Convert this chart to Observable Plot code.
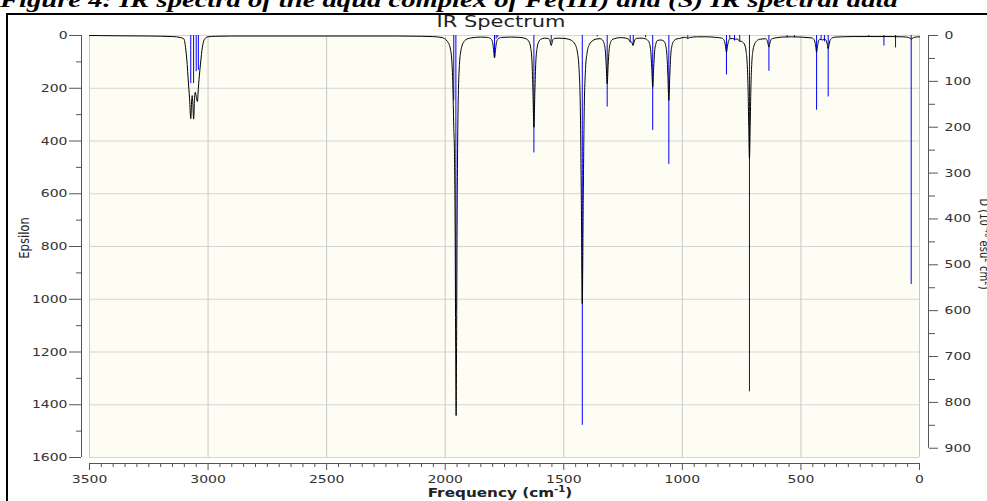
<!DOCTYPE html>
<html><head><meta charset="utf-8">
<script src="https://cdn.jsdelivr.net/npm/d3@7"></script>
<script src="https://cdn.jsdelivr.net/npm/@observablehq/plot@0.6"></script>
<style>
html,body{margin:0;padding:0;width:987px;height:501px;overflow:hidden;background:#fff;}
.lbl{position:absolute;white-space:nowrap;font-family:"DejaVu Sans";color:#222;line-height:1;}
</style></head><body>
<div id="caption" style="position:absolute;left:0px;top:-10px;font:italic bold 22px 'Liberation Serif';white-space:nowrap;transform:scaleX(1.3);transform-origin:0 0;line-height:20px;color:#000;">Figure 4: IR spectra of the aqua complex of Fe(III) and (S) IR spectral data</div>
<div id="border" style="position:absolute;left:6px;top:13px;width:1200px;height:800px;border-left:2px solid #000;border-top:2px solid #000;"></div>
<div id="chart" style="position:absolute;left:0;top:0;width:987px;height:501px;"></div>
<div class="lbl" style="left:501px;top:22px;font-size:16.5px;transform:translate(-50%,-50%) scaleX(1.27)">IR Spectrum</div>
<div class="lbl" style="left:24.5px;top:237.5px;font-size:11.6px;transform:translate(-50%,-50%) scaleX(1.27) rotate(-90deg)">Epsilon</div>
<div class="lbl" style="left:500px;top:492px;font-size:12px;font-weight:bold;transform:translate(-50%,-50%) scaleX(1.27)">Frequency (cm<sup style="font-size:8px;vertical-align:5px">-1</sup>)</div>
<div class="lbl" style="left:983.5px;top:244px;font-size:10px;transform:translate(-50%,-50%) scaleX(1.27) rotate(90deg)">D (10<sup style="font-size:7px;vertical-align:4px">-40</sup> esu<sup style="font-size:7px;vertical-align:4px">2</sup> cm<sup style="font-size:7px;vertical-align:4px">2</sup>)</div>
<script>
// ---- axis ticks ----
const freqTicks = [3500, 3000, 2500, 2000, 1500, 1000, 500, 0];
const freqMinor = d3.range(0, 3501, 50).filter(d => d % 500 !== 0);
const epsTicks = [0, 200, 400, 600, 800, 1000, 1200, 1400, 1600];
const epsMinor = [100, 300, 500, 700, 900, 1100, 1300, 1500];
const dTicks = [0, 100, 200, 300, 400, 500, 600, 700, 800, 900];
const dMinor = [50, 150, 250, 350, 450, 550, 650, 750, 850];
const freqMin = 0, freqMax = 3500, epsMax = 1600, dMax = 900;
// right axis (D) to left axis (epsilon) unit ratio: D 900 sits at epsilon ~1565
const k = 1.7388;

// ---- stick spectrum (blue, dipole strength D) ----
const stickFreq = [3073,3061,3050,3041,1964,1955,1792,1785,1778,1626,1553,1422,1359,1317,1220,1207,1155,1125,1057,977,814,800,780,758,717,635,558,527,434,415,401,385,214,150,101,35];
const stickD    = [105, 105, 79,  76,  142, 600, 48,  8,   5,   256, 15,  850, 3,   156, 15,  20,  5,   207, 281, 8,  86, 8,  12, 14, 777,78, 5,  5,  163,10, 14, 134,3,  23, 27, 543];

// ---- broadened spectrum (black, epsilon) ----
const curveHigh = [[3500,0],[3400,1],[3250,2],[3150,4],[3115,8],[3102,13],[3095,45],[3088,110],[3084,165],[3078,240],[3073,315],[3069,245],[3067,228],[3064,262],[3061,317],[3057,238],[3054,215],[3049,236],[3045,250],[3041,200],[3035,135],[3030,90],[3026,57],[3018,20],[3010,9],[3000,5],[2970,3],[2900,2],[2500,2],[2200,2],[2100,3]];
const curve1950 = [[2055,4],[2013,8],[1992,21],[1978,51],[1970,130],[1966,262],[1964,346],[1961,446],[1958,756],[1956,1166],[1954,1441],[1952,1160],[1950,725],[1946,290],[1944,200],[1940,110],[1934,58],[1928,36],[1918,20],[1907,13],[1890,9],[1872,7],[1850,6]];
const curveMid = [[1822,7],[1812,10],[1806,14],[1800,27],[1796,54],[1792,85],[1788,54],[1784,27],[1778,14],[1772,10],[1762,7],[1720,6],[1690,7],[1671,9],[1656,14],[1646,25],[1640,44],[1634,101],[1630,214],[1626,348],[1622,214],[1618,101],[1612,44],[1606,25],[1596,14],[1581,10],[1567,11],[1561,15],[1557,25],[1553,38],[1549,25],[1545,15],[1539,11],[1520,10],[1500,11]];
const curve1400 = [[1480,14],[1467,19],[1452,34],[1442,67],[1436,122],[1430,290],[1426,625],[1422,1017],[1418,625],[1414,290],[1408,122],[1402,67],[1392,34],[1377,19],[1360,13],[1347,12],[1337,17],[1331,27],[1325,56],[1321,114],[1317,183],[1313,114],[1309,56],[1303,27],[1297,17],[1287,12],[1260,8],[1240,10],[1228,13],[1220,24],[1214,25],[1208,38],[1204,26],[1200,16],[1194,11],[1180,10]];
const curve1100 = [[1170,10],[1155,13],[1145,19],[1139,29],[1133,61],[1129,123],[1125,196],[1121,123],[1117,61],[1111,29],[1105,19],[1091,17],[1077,22],[1071,35],[1065,75],[1061,153],[1057,246],[1053,153],[1049,75],[1043,35],[1037,22],[1027,14],[1012,11],[990,7],[981,9],[977,12],[973,9],[964,7]];
const curveLow = [[940,5],[900,5],[860,7],[834,10],[828,13],[822,23],[818,41],[814,63],[810,41],[806,23],[800,13],[790,11],[784,12],[780,17],[776,13],[766,14],[758,22],[752,22],[747,24],[737,36],[731,61],[727,101],[723,199],[720,345],[717,467],[714,345],[711,199],[707,101],[703,61],[697,36],[687,21],[672,14],[660,13],[649,12],[643,18],[639,30],[635,44],[631,30],[627,18],[621,12],[605,9],[580,6],[540,5],[500,6],[470,8],[454,9],[448,12],[442,21],[438,40],[434,63],[430,40],[426,21],[420,14],[415,15],[410,17],[405,15],[399,14],[393,21],[389,33],[385,50],[381,33],[377,18],[371,11],[365,8],[355,6],[330,5],[280,4],[200,4],[120,4],[70,5],[55,6],[45,8],[39,11],[35,15],[31,11],[25,8],[15,6],[0,5]];

const curve = [...curveHigh, ...curve1950, ...curveMid, ...curve1400, ...curve1100, ...curveLow];
const sticks = stickFreq.map((f, i) => ({f, D: stickD[i]}));
const fmt = d => String(d);

const svg = Plot.plot({
  width: 987, height: 501,
  marginLeft: 81, marginRight: 59, marginTop: 35, marginBottom: 38,
  x: {domain: [freqMin, freqMax], reverse: true, insetLeft: 8, insetRight: 9},
  y: {domain: [0, epsMax], reverse: true, insetBottom: 6},
  style: {fontFamily: "DejaVu Sans", fontSize: "11px", color: "#333", background: "transparent", overflow: "visible"},
  marks: [
    Plot.frame({fill: "#fefdf3", stroke: "none", insetLeft: 8, insetRight: 9, insetBottom: 6}),
    Plot.ruleY(epsTicks, {x1: freqMax, x2: freqMin, stroke: "#d4d4d4", strokeWidth: 1}),
    Plot.ruleX(freqTicks, {y1: 0, y2: epsMax, stroke: "#c8c8c8", strokeWidth: 1}),
    Plot.ruleX(sticks, {x: "f", y1: 0, y2: d => d.D * k, stroke: "#0000ff", strokeWidth: 1}),
    Plot.line(curve, {x: d => d[0], y: d => d[1], stroke: "#000", strokeWidth: 1, curve: "monotone-x"}),
    Plot.ruleX([freqMax], {y1: 0, y2: epsMax, dx: -8, stroke: "#555"}),
    Plot.ruleX([freqMin], {y1: 0, y2: dMax * k, dx: 9, stroke: "#555"}),
    Plot.ruleY([epsMax], {x1: freqMax, x2: freqMin, dy: 6, stroke: "#555"}),
    Plot.axisY(epsTicks, {anchor: "left", tickSize: 12, tickPadding: 2, tickFormat: fmt, label: null, stroke: "#555"}),
    Plot.axisY(epsMinor, {anchor: "left", tickSize: 5, tickFormat: () => "", label: null, stroke: "#555"}),
    Plot.axisY(dTicks.map(d => d * k), {anchor: "right", tickSize: 9, tickPadding: 7, tickFormat: d => String(Math.round(d / k)), label: null, stroke: "#555"}),
    Plot.axisY(dMinor.map(d => d * k), {anchor: "right", tickSize: 6, tickFormat: () => "", label: null, stroke: "#555"}),
    Plot.axisX(freqTicks, {anchor: "bottom", tickSize: 7, tickPadding: 5, tickFormat: fmt, label: null, stroke: "#555"}),
    Plot.axisX(freqMinor, {anchor: "bottom", tickSize: 4, tickFormat: () => "", label: null, stroke: "#555"})
  ]
});
document.getElementById("chart").append(svg);
svg.querySelectorAll("text").forEach(t => {
  if (!t.textContent.trim()) return;
  const L = t.getComputedTextLength();
  t.setAttribute("textLength", (L * 1.27).toFixed(2));
  t.setAttribute("lengthAdjust", "spacingAndGlyphs");
});
</script>
</body></html>
